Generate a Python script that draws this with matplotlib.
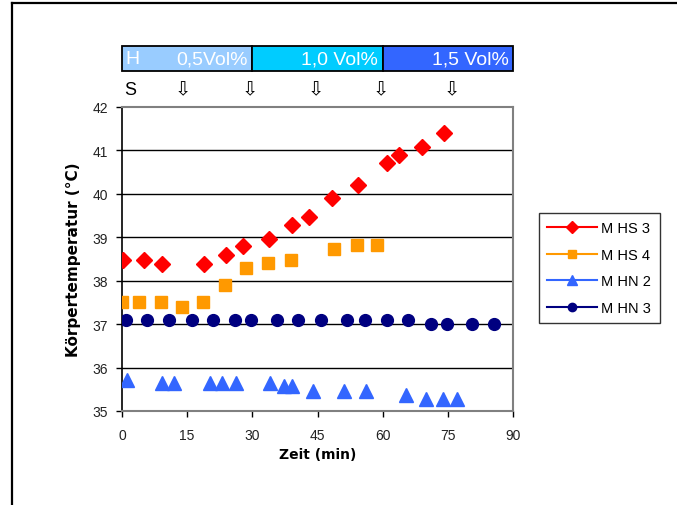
import matplotlib
matplotlib.use("Agg")
from matplotlib import pyplot as plt
from matplotlib.lines import Line2D
from matplotlib.patches import Rectangle

# Messwerte: Zeit (min) und Körpertemperatur (°C)
mhs3_t = [0.3, 5.1, 9.3, 18.9, 23.9, 27.9, 33.9, 39.1, 43.1, 48.3, 54.3, 61.1, 63.8, 69.0, 74.1]
mhs3_T = [38.47, 38.47, 38.38, 38.38, 38.6, 38.79, 38.97, 39.29, 39.47, 39.9, 40.2, 40.72, 40.89, 41.08, 41.4]

mhs4_t = [0.0, 3.9, 9.0, 13.7, 18.6, 23.7, 28.5, 33.7, 38.8, 48.9, 54.0, 58.6]
mhs4_T = [37.52, 37.52, 37.52, 37.39, 37.52, 37.89, 38.29, 38.4, 38.48, 38.72, 38.82, 38.82]

mhn2_t = [1.1, 9.3, 12.0, 20.3, 23.0, 26.2, 34.1, 37.4, 39.2, 44.0, 51.1, 56.2, 65.3, 69.9, 73.9, 77.2]
mhn2_T = [35.72, 35.64, 35.64, 35.64, 35.64, 35.64, 35.64, 35.57, 35.57, 35.47, 35.47, 35.47, 35.37, 35.28, 35.28, 35.28]

mhn3_t = [0.85, 5.8, 10.8, 16.0, 20.9, 26.0, 29.6, 35.7, 40.6, 45.7, 51.9, 55.9, 60.9, 65.9, 71.1, 74.7, 80.6, 85.7]
mhn3_T = [37.1, 37.1, 37.1, 37.1, 37.1, 37.1, 37.1, 37.1, 37.1, 37.1, 37.1, 37.1, 37.1, 37.1, 37.0, 37.0, 37.0, 37.0]

# Narkosephasen oben
phase_start = [0, 30, 60]
phase_end = [30, 60, 90]
phase_text = ["0,5Vol%", "1,0 Vol%", "1,5 Vol%"]
phase_color = ["#99CCFF", "#00CCFF", "#3366FF"]
arrow_t = [14.0, 29.5, 44.6, 59.5, 76.0]

plt.rcParams['font.family'] = ['Liberation Sans', 'DejaVu Sans']

fig = plt.figure(figsize=(6.77, 5.06), dpi=100)
ax = fig.add_axes([0.1802, 0.1858, 0.5776, 0.6008])

ax.plot(mhs3_t, mhs3_T, 'D', color='#FF0000', ms=8.5, mec='#FF0000', zorder=5)
ax.plot(mhs4_t, mhs4_T, 's', color='#FF9900', ms=8.5, mec='#FF9900', zorder=5)
ax.plot(mhn2_t, mhn2_T, '^', color='#3366FF', ms=10, mec='#3366FF', zorder=5)
ax.plot(mhn3_t, mhn3_T, 'o', color='#000080', ms=8.5, mec='#000080', zorder=5)

ax.set_xlim(0, 90)
ax.set_ylim(35, 42)
ax.set_xticks(range(0, 91, 15))
ax.set_yticks(range(35, 43))
ax.tick_params(axis='both', labelsize=10, labelcolor='#222222', direction='out', length=4, width=1)
ax.tick_params(axis='x', pad=8)
ax.tick_params(axis='y', pad=6)
for y in range(36, 42):
    ax.axhline(y, color='black', lw=1, zorder=1)
for s in ['top', 'right', 'bottom']:
    ax.spines[s].set_color('#808080')
    ax.spines[s].set_linewidth(1.5)
ax.spines['left'].set_color('black')
ax.spines['left'].set_linewidth(1.2)

ax.set_xlabel('Zeit (min)', family='DejaVu Sans', fontweight='bold', fontsize=10, labelpad=4)
ax.set_ylabel('Körpertemperatur (°C)', family='DejaVu Sans', fontweight='bold', fontsize=11, labelpad=8)

# Balken mit Konzentrationen
for x0, x1, txt, c in zip(phase_start, phase_end, phase_text, phase_color):
    ax.add_patch(Rectangle((x0, 1.118), x1 - x0, 0.082, transform=ax.get_xaxis_transform(),
                           facecolor=c, edgecolor='black', lw=1.3, clip_on=False))
    ax.text(x1 - 1.0, 1.159, txt, transform=ax.get_xaxis_transform(), ha='right', va='center',
            color='white', fontsize=14)
ax.text(0.7, 1.159, 'H', transform=ax.get_xaxis_transform(), ha='left', va='center',
        color='white', fontsize=14)

ax.text(1.8, 1.059, 'S', transform=ax.get_xaxis_transform(), ha='center', va='center', fontsize=13)
for t in arrow_t:
    ax.text(t, 1.059, '\u21e9', transform=ax.get_xaxis_transform(), ha='center', va='center',
            fontsize=14, family='DejaVu Sans')

handles = [
    Line2D([], [], color='#FF0000', marker='D', ms=6, lw=1.5, label='M HS 3'),
    Line2D([], [], color='#FF9900', marker='s', ms=6, lw=1.5, label='M HS 4'),
    Line2D([], [], color='#3366FF', marker='^', ms=7, lw=1.5, label='M HN 2'),
    Line2D([], [], color='#000080', marker='o', ms=6, lw=1.5, label='M HN 3'),
]
leg = fig.legend(handles=handles, loc='upper left', bbox_to_anchor=(0.785, 0.592),
                 fontsize=10.5, frameon=True, fancybox=False, handlelength=3.4,
                 labelspacing=0.85, borderpad=0.6, handletextpad=0.3)
leg.get_frame().set_edgecolor('black')
leg.get_frame().set_linewidth(1.0)

# Rahmen links und oben
fig.add_artist(Line2D([0.0177, 0.0177], [0.0, 0.992], color='black', lw=1.6))
fig.add_artist(Line2D([0.0177, 1.0], [0.992, 0.992], color='black', lw=1.6))

plt.savefig("out.png", dpi=100)
